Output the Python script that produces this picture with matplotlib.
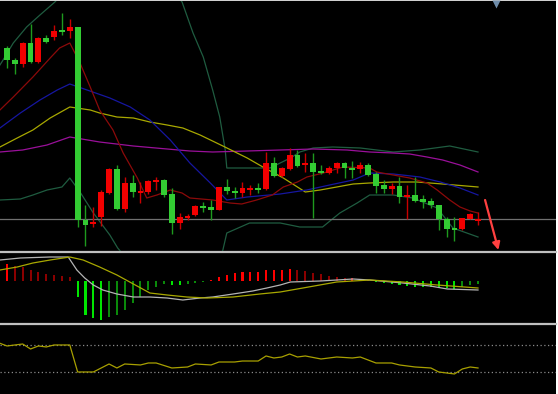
import numpy as np
import matplotlib
matplotlib.use("Agg")
import matplotlib.pyplot as plt
from matplotlib.lines import Line2D
from matplotlib.patches import Rectangle

# ---------------- data ----------------
opens = [12.02, 11.90, 11.86, 12.07, 11.88, 12.12, 12.13, 12.20, 12.19, 12.23,
         10.30, 10.26, 10.33, 10.57, 10.81, 10.41, 10.67, 10.57, 10.58, 10.68,
         10.70, 10.56, 10.27, 10.32, 10.35, 10.44, 10.43, 10.40, 10.63, 10.59,
         10.57, 10.60, 10.62, 10.61, 10.87, 10.74, 10.81, 10.95, 10.85, 10.87,
         10.79, 10.77, 10.82, 10.87, 10.82, 10.81, 10.85, 10.76, 10.65, 10.61,
         10.64, 10.53, 10.55, 10.51, 10.49, 10.45, 10.31, 10.22, 10.21, 10.31, 10.29]
highs = [12.04, 11.92, 12.08, 12.26, 12.13, 12.15, 12.25, 12.37, 12.31, 12.23,
         10.45, 10.43, 10.60, 10.82, 10.85, 10.73, 10.75, 10.68, 10.70, 10.73,
         10.71, 10.62, 10.37, 10.36, 10.45, 10.48, 10.50, 10.63, 10.71, 10.63,
         10.68, 10.65, 10.67, 10.98, 10.93, 10.83, 11.02, 11.00, 10.97, 10.97,
         10.85, 10.84, 10.88, 10.88, 10.89, 10.88, 10.87, 10.78, 10.70, 10.67,
         10.73, 10.65, 10.73, 10.55, 10.52, 10.45, 10.33, 10.33, 10.32, 10.37, 10.38]
lows = [11.82, 11.76, 11.83, 11.87, 11.87, 12.07, 12.10, 12.15, 12.12, 10.23,
        10.04, 10.23, 10.24, 10.56, 10.40, 10.38, 10.53, 10.47, 10.56, 10.60,
        10.53, 10.16, 10.21, 10.30, 10.34, 10.38, 10.30, 10.40, 10.56, 10.52,
        10.53, 10.55, 10.57, 10.60, 10.73, 10.73, 10.80, 10.83, 10.78, 10.32,
        10.76, 10.76, 10.77, 10.72, 10.72, 10.77, 10.74, 10.57, 10.57, 10.56,
        10.47, 10.31, 10.48, 10.42, 10.42, 10.20, 10.13, 10.09, 10.20, 10.31, 10.25]
closes = [11.90, 11.86, 12.07, 11.88, 12.12, 12.08, 12.19, 12.18, 12.23, 10.30,
          10.25, 10.28, 10.58, 10.81, 10.41, 10.67, 10.58, 10.59, 10.69, 10.70,
          10.55, 10.27, 10.33, 10.34, 10.44, 10.42, 10.40, 10.63, 10.59, 10.57,
          10.62, 10.62, 10.60, 10.87, 10.74, 10.82, 10.95, 10.84, 10.87, 10.78,
          10.77, 10.82, 10.87, 10.82, 10.80, 10.85, 10.75, 10.64, 10.61, 10.64,
          10.53, 10.55, 10.49, 10.48, 10.45, 10.31, 10.21, 10.20, 10.32, 10.36, 10.31]

ma5_x = [-0.9, 0.8, 3.3, 5.5, 6.7, 8.0, 9.3, 10.6, 11.8, 13.5, 14.8, 16.6, 17.8, 19.1, 20.8,
         22.3, 23.3, 26.2, 28.4, 29.9, 31.8, 33.8, 35.2, 37.0, 38.2, 40.3, 42.8, 46.2, 47.1,
         49.2, 51.3, 53.5, 54.8, 56.4, 57.7, 59.0, 60.0]
ma5_v = [11.40, 11.53, 11.73, 11.92, 12.02, 12.07, 11.87, 11.63, 11.40, 11.20, 10.97, 10.72,
         10.52, 10.55, 10.60, 10.57, 10.52, 10.50, 10.47, 10.46, 10.50, 10.55, 10.63, 10.68,
         10.73, 10.77, 10.83, 10.82, 10.78, 10.75, 10.72, 10.67, 10.60, 10.50, 10.43, 10.39, 10.37]

ma10_x = [-0.9, 1.7, 4.2, 6.4, 8.0, 10.2, 13.1, 15.7, 18.2, 20.8, 23.3, 25.9, 28.0,
          30.6, 34.8, 38.2, 41.1, 44.1, 46.2, 49.2, 52.6, 55.2, 57.7, 60.0]
ma10_v = [11.22, 11.37, 11.50, 11.60, 11.66, 11.60, 11.52, 11.43, 11.30, 11.10, 10.87, 10.67,
          10.50, 10.53, 10.56, 10.60, 10.65, 10.70, 10.77, 10.76, 10.73, 10.68, 10.62, 10.55]

ma20_x = [-0.9, 1.3, 3.3, 5.5, 8.0, 10.6, 11.8, 14.0, 16.1, 18.2, 20.4, 22.4, 24.6, 27.5,
          30.6, 32.6, 35.2, 38.0, 39.9, 42.0, 44.1, 46.2, 49.2, 52.2, 55.5, 60.0]
ma20_v = [11.03, 11.12, 11.20, 11.32, 11.43, 11.40, 11.37, 11.33, 11.32, 11.28, 11.25, 11.22,
          11.15, 11.04, 10.92, 10.83, 10.72, 10.58, 10.60, 10.63, 10.66, 10.67, 10.68, 10.68,
          10.66, 10.63]

ma60_x = [-0.9, 2.0, 5.1, 8.0, 11.8, 16.1, 20.4, 23.3, 26.2, 30.6, 34.8, 39.0, 43.3, 46.2,
          49.2, 51.3, 53.5, 55.5, 57.7, 60.0]
ma60_v = [10.98, 11.00, 11.05, 11.13, 11.08, 11.04, 11.01, 10.99, 10.98, 10.99, 11.00, 11.01,
          11.00, 10.98, 10.97, 10.96, 10.93, 10.90, 10.85, 10.78]

boll_up_x = [-0.9, -0.5, 0.8, 2.5, 4.2, 6.1, 9.3, 15.7, 19.5, 22.3, 23.7, 25.0, 26.2, 27.1,
             27.8, 28.0, 33.5, 34.8, 36.1, 37.3, 39.0, 41.5, 45.0, 49.2, 52.6, 56.4, 60.0]
boll_up_v = [11.85, 11.90, 12.07, 12.23, 12.35, 12.48, 12.75, 12.90, 12.75, 12.48, 12.17,
             11.93, 11.60, 11.33, 11.00, 10.82, 10.82, 10.87, 10.92, 10.98, 11.02, 11.03,
             11.02, 10.98, 11.00, 11.04, 10.98]

boll_dn_x = [-0.9, 1.7, 3.3, 5.1, 7.0, 8.0, 9.3, 11.0, 13.1, 14.1, 17.0, 22.0, 26.5, 27.5,
             28.0, 30.9, 34.8, 37.3, 40.2, 42.4, 44.6, 46.2, 49.2, 51.7, 54.8, 56.8, 60.0]
boll_dn_v = [10.50, 10.51, 10.55, 10.60, 10.63, 10.72, 10.58, 10.37, 10.15, 10.02, 9.75,
             9.65, 9.82, 10.00, 10.17, 10.27, 10.27, 10.23, 10.23, 10.37, 10.47, 10.55,
             10.55, 10.52, 10.42, 10.22, 10.13]

macd_hist = [0.17, 0.15, 0.14, 0.11, 0.09, 0.07, 0.06, 0.05, 0.04, -0.16,
             -0.34, -0.37, -0.39, -0.36, -0.34, -0.29, -0.22, -0.16, -0.09, -0.06,
             -0.03, -0.04, -0.04, -0.03, -0.02, -0.01, 0.01, 0.04, 0.06, 0.08,
             0.09, 0.09, 0.09, 0.11, 0.11, 0.11, 0.12, 0.11, 0.10, 0.08,
             0.07, 0.05, 0.04, 0.03, 0.03, 0.02, 0.01, -0.01, -0.02, -0.03,
             -0.04, -0.05, -0.06, -0.06, -0.06, -0.07, -0.07, -0.08, -0.06, -0.04, -0.03]

dif_x = [-0.9, 1.7, 5.5, 7.8, 8.9, 9.9, 11.0, 12.2, 14.0, 16.1, 18.2, 20.4, 22.4, 24.6,
         26.2, 28.8, 31.3, 33.1, 34.8, 36.1, 39.9, 44.1, 46.2, 50.4, 53.9, 56.1, 60.0]
dif_v = [0.21, 0.23, 0.24, 0.24, 0.11, 0.03, -0.04, -0.09, -0.13, -0.16, -0.16, -0.17,
         -0.19, -0.17, -0.16, -0.13, -0.10, -0.07, -0.04, -0.01, 0.00, 0.02, 0.01, -0.02,
         -0.05, -0.08, -0.09]

dea_x = [-0.9, 1.3, 3.3, 5.5, 8.0, 9.7, 11.8, 14.0, 16.1, 18.2, 20.4, 22.9, 25.5, 28.8,
         32.2, 34.8, 37.7, 42.0, 46.2, 50.4, 54.8, 60.0]
dea_v = [0.11, 0.14, 0.18, 0.21, 0.24, 0.21, 0.14, 0.06, -0.03, -0.12, -0.14, -0.16, -0.17,
         -0.16, -0.13, -0.11, -0.07, -0.01, 0.01, -0.01, -0.04, -0.07]

osc_x = [-1, 0, 2, 3, 4, 5, 6, 8, 9, 11, 12, 13, 14, 15, 17, 18, 19, 21, 23, 24, 26, 27,
         29, 30, 32, 33, 34, 35, 36, 37, 38, 40, 42, 44, 45, 47, 49, 50, 52, 54, 55, 57,
         58, 59, 60]
osc_v = [84.4, 77.8, 82.2, 71.1, 77.8, 75.6, 80, 80, 20, 20, 28.9, 37.8, 28.9, 37.8, 35.6,
         40, 40, 28.9, 31.1, 37.8, 35.6, 42.2, 42.2, 44.4, 44.4, 55.6, 51.1, 53.3, 60, 53.3,
         55.6, 48.9, 53.3, 51.1, 53.3, 40, 40, 35.6, 31.1, 28.9, 20, 15.6, 26.7, 31.1, 28.9]
osc_levels = [80, 20]

# ---------------- figure ----------------
W, H = 558, 394
fig = plt.figure(figsize=(W / 100, H / 100), dpi=100, facecolor="black")

PLOT_W = 556
XSTEP = 7.85
X0 = 7.0
xlim = (-X0 / XSTEP, (PLOT_W - X0) / XSTEP)

def rect(top, bottom):
    return [0, 1 - bottom / H, PLOT_W / W, (bottom - top) / H]

ax1 = fig.add_axes(rect(1, 251))
ax2 = fig.add_axes(rect(254, 322))
ax3 = fig.add_axes(rect(325, 394))
for ax in (ax1, ax2, ax3):
    ax.set_axis_off()
    ax.set_xlim(*xlim)
ax1.set_zorder(3)

ax1.set_ylim(9.99, 12.49)
ax2.set_ylim(-0.41, 0.27)
ax3.set_ylim(-28.9, 124.4)

# ---- main panel ----
o = np.array(opens); h = np.array(highs); l = np.array(lows); c = np.array(closes)
idx = np.arange(len(c))
up = c >= o
RED, GREEN = "#F20000", "#33CC33"
RED_W, GREEN_W = "#C80000", "#1E9A1E"

lw_ma = 0.9
ax1.plot(boll_up_x, boll_up_v, color="#1F5C40", lw=lw_ma, zorder=1)
ax1.plot(boll_dn_x, boll_dn_v, color="#1F5C40", lw=lw_ma, zorder=1)
ax1.plot(ma60_x, ma60_v, color="#9A109A", lw=lw_ma, zorder=1)
ax1.plot(ma20_x, ma20_v, color="#A8A800", lw=lw_ma, zorder=1)
ax1.plot(ma10_x, ma10_v, color="#1616A0", lw=lw_ma, zorder=1)
ax1.plot(ma5_x, ma5_v, color="#8C0A0A", lw=lw_ma, zorder=1)
ax1.axhline(c[-1], color="#707070", lw=0.9, zorder=1)

ax1.vlines(idx, l, h, colors=np.where(up, RED_W, GREEN_W), lw=1.0, zorder=2)
body_col = np.where(up, RED, GREEN)
ax1.bar(idx, np.maximum(np.abs(c - o), 0.018), bottom=np.minimum(o, c), width=0.74,
        color=body_col, edgecolor=body_col, linewidth=0, zorder=3)

ax1.annotate("", xy=(62.6, 10.0), xytext=(60.9, 10.50), annotation_clip=False,
             arrowprops=dict(arrowstyle="-|>", color="#FF4040", lw=1.6, mutation_scale=11,
                             shrinkA=0, shrinkB=0), zorder=5)
ax1.plot([62.3], [12.465], marker="v", ms=6, color="#6E8CAA", mec="none", clip_on=False, zorder=5)

# ---- MACD panel ----
hist = np.array(macd_hist)
prev = np.concatenate([[hist[0]], hist[:-1]])
grow = np.abs(hist) >= np.abs(prev)
cols = np.where(hist >= 0, np.where(grow, "#FF0000", "#8B0000"),
                np.where(grow, "#00E600", "#0A8A0A"))
ax2.bar(idx, hist, width=0.26, color=cols, linewidth=0)
ax2.plot(dif_x, dif_v, color="#B4B4B4", lw=0.9)
ax2.plot(dea_x, dea_v, color="#A8A800", lw=0.9)

# ---- bottom oscillator ----
for lev in osc_levels:
    ax3.axhline(lev, color="#8A8A8A", lw=0.9, ls=(0, (1, 2)))
ax3.plot(osc_x, osc_v, color="#A8A000", lw=0.9)

# ---- separators / frame ----
for ypx in (252.5, 323.5):
    fig.add_artist(Line2D([0, PLOT_W / W], [1 - ypx / H] * 2, color="#C0C0C0", lw=1.6))
fig.add_artist(Rectangle((PLOT_W / W, 0), (W - PLOT_W) / W, 1, transform=fig.transFigure,
                         facecolor="white", edgecolor="none"))
fig.add_artist(Rectangle((0, 1 - 1 / H), PLOT_W / W, 1 / H, transform=fig.transFigure,
                         facecolor="#D0D0D0", edgecolor="none"))

fig.savefig("out.png", dpi=100, facecolor="black")
